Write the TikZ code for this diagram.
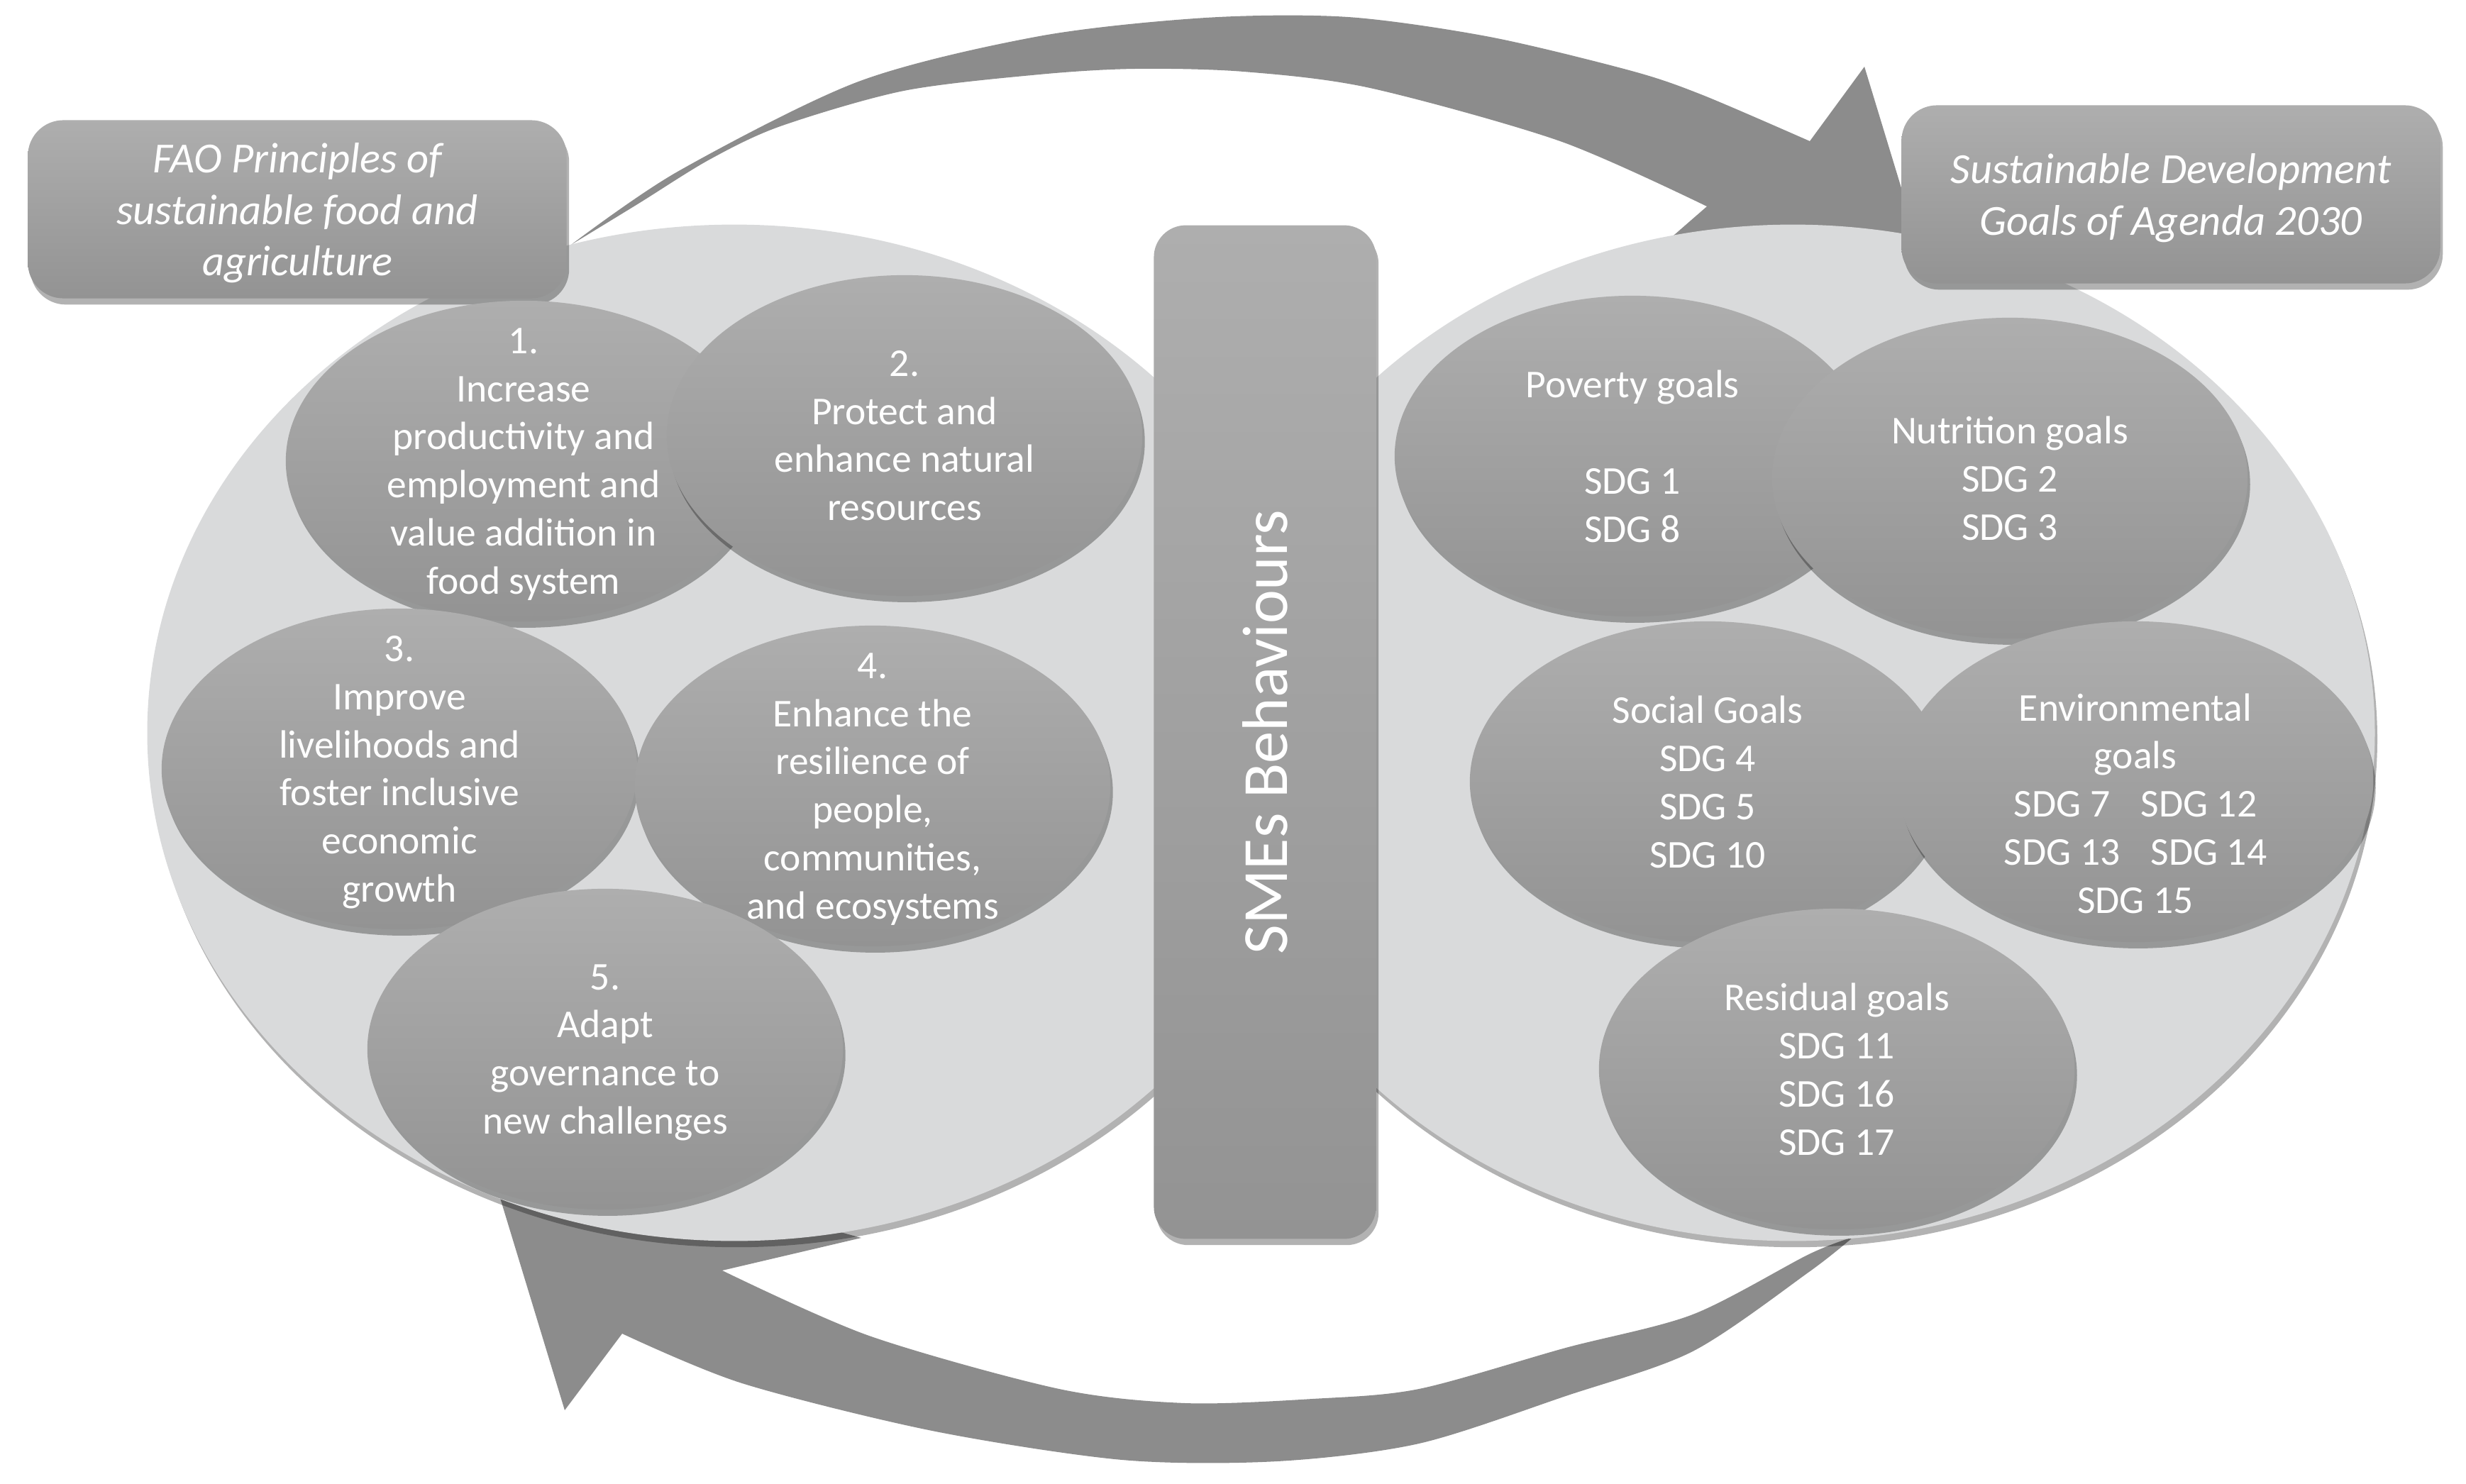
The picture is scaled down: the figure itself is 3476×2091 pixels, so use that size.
\documentclass[tikz,border=0pt]{standalone}
\usepackage{fontspec}
\setmainfont{Carlito}
\usepackage{graphicx}
\usetikzlibrary{shapes.geometric,shadows}

\definecolor{zonegray}{HTML}{D9DADB}
\definecolor{bandgray}{HTML}{8C8C8C}
\definecolor{ovaltop}{HTML}{AEAEAE}
\definecolor{ovalbottom}{HTML}{939393}

\begin{document}
\begin{tikzpicture}[
    x=0.01cm, y=-0.01cm,
    every node/.style={font=\fontsize{15.8}{19.3}\selectfont},
    softshadow/.style={drop shadow={shadow xshift=1pt, shadow yshift=-2.5pt, fill=black, opacity=0.3}},
    zone/.style={ellipse, fill=zonegray, inner sep=0pt, minimum height=14.32cm, softshadow},
    oval/.style={ellipse, top color=ovaltop, bottom color=ovalbottom, minimum width=6.7cm, minimum height=4.52cm, inner sep=-3cm, text=white, align=center, text depth=0pt, softshadow},
    headbox/.style={rounded corners=0.5cm, top color=ovaltop, bottom color=ovalbottom, minimum width=7.59cm, minimum height=2.51cm, inner sep=0pt, text=white, align=center, text depth=0pt, font=\fontsize{17.2}{20.5}\selectfont\itshape, softshadow},
    smebar/.style={rounded corners=0.45cm, top color=ovaltop, bottom color=ovalbottom, minimum width=3.13cm, minimum height=14.28cm, inner sep=0pt, text=white, font=\fontsize{25.8}{30}\selectfont, softshadow},
    band/.style={fill=bandgray}
]
\useasboundingbox (0,0) rectangle (3476,2091);

% upper curved arrow
\fill[band]
  plot[smooth] coordinates {(805,345) (955,242) (1210,115) (1465,51) (1700,25) (1900,24) (2100,52) (2300,100) (2400,134) (2551,199)}
  -- (2628,94) -- (2747,485) -- (2290,392) -- (2406,291)
  -- plot[smooth] coordinates {(2406,291) (2199,199) (1931,124) (1753,101) (1600,97) (1465,105) (1274,128) (1100,178) (1000,225) (900,287) (805,345)}
  -- cycle;
% lower curved arrow
\fill[band]
  plot[smooth] coordinates {(2612,1744) (2550,1793) (2386,1905) (2207,1968) (2000,2035) (1800,2060) (1582,2058) (1314,2017) (1046,1950) (877,1880)}
  -- (796,1988) -- (677,1597) -- (1214,1745) -- (1018,1791)
  -- plot[smooth] coordinates {(1018,1791) (1225,1883) (1493,1958) (1671,1978) (1850,1972) (2000,1958) (2207,1900) (2386,1853) (2550,1768) (2612,1744)}
  -- cycle;

\node[zone, minimum width=16.54cm] (principles) at (1035,1033) {};
\node[zone, minimum width=16.4cm] (goals) at (2527,1033) {};

\node[headbox] (fao) at (419,295) {FAO Principles of\\sustainable food and\\agriculture};
\node[headbox] (agenda) at (3060,274) {Sustainable Development\\Goals of Agenda 2030};

\node[oval] (prod) at (738,650) {1.\\Increase\\productivity and\\employment and\\value addition in\\food system};
\node[oval] (protect) at (1275,614) {2.\\Protect and\\enhance natural\\resources};
\node[oval] (liveli) at (563,1084) {3.\\Improve\\livelihoods and\\foster inclusive\\economic\\growth};
\node[oval] (resil) at (1230,1108) {4.\\Enhance the\\resilience of\\people,\\communities,\\and ecosystems};
\node[oval] (govern) at (853,1479) {5.\\Adapt\\governance to\\new challenges};

\node[smebar] (sme) at (1783,1032) {\rotatebox{90}{SMEs Behaviours}};

\node[oval] (poverty) at (2301,643) {Poverty goals\\[19.3pt]SDG 1\\SDG 8};
\node[oval] (nutrition) at (2833,674) {Nutrition goals\\SDG 2\\SDG 3};
\node[oval] (social) at (2407,1102) {Social Goals\\SDG 4\\SDG 5\\SDG 10};
\node[oval] (environ) at (3010,1102) {\mbox{}\\[9pt]Environmental\\goals\\SDG 7\hspace{.78em}SDG 12\\SDG 13\hspace{.78em}SDG 14\\SDG 15};
\node[oval] (residual) at (2589,1507) {Residual goals\\SDG 11\\SDG 16\\SDG 17};
\end{tikzpicture}
\end{document}
